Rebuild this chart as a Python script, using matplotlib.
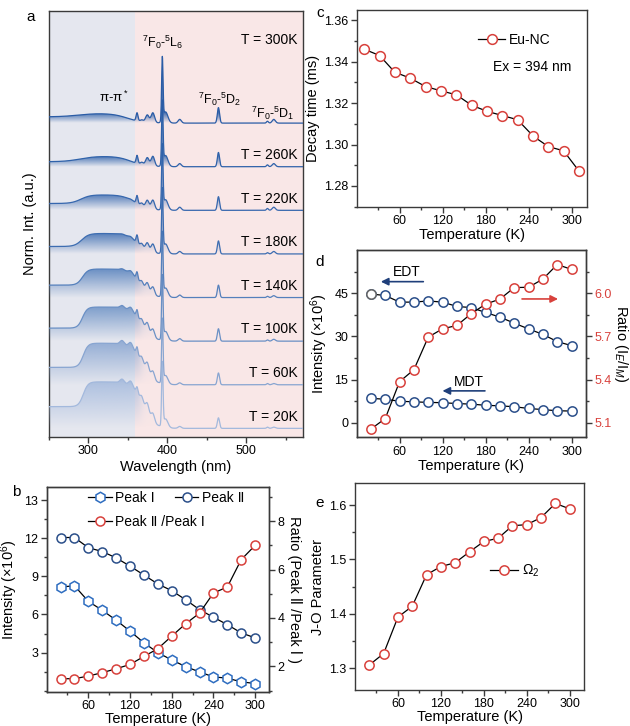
import numpy as np
import matplotlib
matplotlib.use('Agg')
import matplotlib.pyplot as plt
from matplotlib.path import Path
from matplotlib.patches import PathPatch
from matplotlib.colors import to_rgb
from matplotlib.lines import Line2D
from matplotlib.ticker import MultipleLocator, FixedLocator, FixedFormatter

plt.rcParams['font.family'] = ['Liberation Sans', 'DejaVu Sans']
plt.rcParams['mathtext.fontset'] = 'custom'
plt.rcParams['mathtext.rm'] = 'Liberation Sans'
plt.rcParams['mathtext.it'] = 'Liberation Sans:italic'
plt.rcParams['axes.edgecolor'] = '#3a3a3a'
plt.rcParams['axes.linewidth'] = 1.0

# ---------------- data ----------------
temps = [20, 40, 60, 80, 100, 120, 140, 160, 180, 200, 220, 240, 260, 280, 300]
t_ticks = [60, 120, 180, 240, 300]

# panel a: spectra (top trace first)
spec_labels = ['T = 300K', 'T = 260K', 'T = 220K', 'T = 180K',
               'T = 140K', 'T = 100K', 'T = 60K', 'T = 20K']
left_level = [0.10, 0.08, 0.11, 0.12, 0.20, 0.21, 0.28, 0.35]
hump_height = [0.16, 0.17, 0.25, 0.33, 0.46, 0.55, 0.67, 0.75]
hump_rise = [288, 290, 291, 292, 293, 293, 294, 294]
hump_rise_w = [12, 10, 6, 4.5, 3.5, 3.0, 3.0, 3.0]
hump_fall = [350, 355, 360, 363, 366, 368, 369, 370]
hump_fall_w = [10, 9, 8, 7, 7, 7, 7, 7]
line_pos = [343, 354, 362, 368, 375, 382, 394, 398, 416, 465, 527, 535]
line_width = [2.5, 2.5, 1.2, 2.0, 2.2, 2.2, 0.9, 3.0, 2.0, 1.4, 1.2, 2.0]
line_amp = [
    [0.00, 0.00, 0.13, 0.03, 0.12, 0.16, 1.00, 0.18, 0.06, 0.25, 0.03, 0.06],
    [0.00, 0.00, 0.13, 0.04, 0.13, 0.16, 1.00, 0.18, 0.05, 0.23, 0.03, 0.05],
    [0.00, 0.01, 0.13, 0.05, 0.13, 0.15, 1.00, 0.17, 0.05, 0.22, 0.03, 0.05],
    [0.01, 0.02, 0.13, 0.06, 0.13, 0.14, 1.00, 0.16, 0.04, 0.21, 0.02, 0.04],
    [0.02, 0.04, 0.12, 0.07, 0.14, 0.13, 1.00, 0.15, 0.04, 0.20, 0.02, 0.03],
    [0.04, 0.06, 0.12, 0.08, 0.15, 0.13, 1.00, 0.15, 0.04, 0.20, 0.02, 0.03],
    [0.06, 0.08, 0.12, 0.09, 0.16, 0.13, 1.00, 0.14, 0.03, 0.19, 0.02, 0.02],
    [0.06, 0.08, 0.10, 0.09, 0.16, 0.13, 1.00, 0.14, 0.03, 0.17, 0.02, 0.02],
]
spec_colors = ['#2a5ca6', '#2f62aa', '#3667ae', '#3d6db1',
               '#5580bc', '#6a90c5', '#88a5d1', '#a3b9dd']
right_fill = [1.0, 0.9, 0.75, 0.55, 0.4, 0.25, 0.15, 0.1]

# panel b
peak1 = [8.15, 8.26, 7.03, 6.33, 5.55, 4.69, 3.77, 3.00, 2.42, 1.90, 1.48, 1.09, 0.99, 0.70, 0.57]
peak2 = [12.05, 12.05, 11.25, 10.95, 10.45, 9.8, 9.1, 8.4, 7.87, 7.16, 6.38, 5.78, 5.2, 4.55, 4.16]
ratio_b = [1.49, 1.49, 1.60, 1.74, 1.90, 2.08, 2.41, 2.73, 3.25, 3.76, 4.20, 5.03, 5.28, 6.41, 7.00]

# panel c
c_temp = [11, 32, 53, 75, 96, 117, 139, 160, 182, 203, 224, 246, 267, 288, 310]
decay = [1.346, 1.343, 1.335, 1.332, 1.328, 1.326, 1.324, 1.319, 1.316, 1.314,
         1.312, 1.304, 1.299, 1.297, 1.287]

# panel d
edt = [44.7, 44.2, 41.9, 41.9, 42.3, 41.9, 40.4, 40.0, 38.3, 36.7, 34.6, 32.6, 30.7, 28.2, 26.8]
mdt = [8.5, 8.2, 7.5, 7.3, 7.1, 7.0, 6.7, 6.5, 6.1, 5.9, 5.6, 5.0, 4.6, 4.2, 4.1]
ratio_d = [5.057, 5.130, 5.386, 5.469, 5.695, 5.753, 5.776, 5.858, 5.924, 5.959,
           6.039, 6.041, 6.098, 6.199, 6.165]

# panel e
omega2 = [1.306, 1.327, 1.394, 1.414, 1.472, 1.487, 1.494, 1.514, 1.533, 1.539,
          1.562, 1.564, 1.577, 1.603, 1.593]

RED = '#d8413c'
BLUE = '#2e6dc0'
NAVY = '#2b4f8a'
FS_LAB = 10.5
FS_TICK = 9


def style(ax):
    ax.tick_params(which='both', direction='out', labelsize=FS_TICK, width=1.0,
                   colors='#3a3a3a', labelcolor='black', pad=2)
    ax.tick_params(which='major', length=4)
    ax.tick_params(which='minor', length=2.5)
    ax.tick_params(top=False, right=False)


def temp_axis(ax):
    ax.set_xlim(0, 320)
    ax.xaxis.set_major_locator(FixedLocator(t_ticks))
    ax.xaxis.set_minor_locator(FixedLocator([30, 90, 150, 210, 270]))


def mk(color, marker='o', ms=6.5):
    return dict(color='black', lw=0.9, marker=marker, ms=ms, mfc='white',
                mec=color, mew=1.1)


fig = plt.figure(figsize=(6.3, 7.26), dpi=100)

# ---------------- panel a ----------------
axa = fig.add_axes([0.077, 0.398, 0.404, 0.587])
axa.axvspan(250, 360, color='#e5e7ef', zorder=0, lw=0)
axa.axvspan(360, 572, color='#f9e7e7', zorder=0, lw=0)
wl = np.arange(250, 572.25, 0.25)


def sig(z):
    return 1.0 / (1.0 + np.exp(-z))


n = len(spec_labels)
for i in range(n):
    base = 0.14 + 0.703 * (n - 1 - i)
    y = left_level[i] * sig((hump_fall[i] - wl) / hump_fall_w[i])
    y = y + (hump_height[i] - left_level[i]) * sig((wl - hump_rise[i]) / hump_rise_w[i]) \
        * sig((hump_fall[i] - wl) / hump_fall_w[i])
    for p, w, a in zip(line_pos, line_width, line_amp[i]):
        y = y + a * np.exp(-0.5 * ((wl - p) / w) ** 2)
    yy = base + y
    z = 10 + 3 * (n - i)
    # gradient fill under the curve
    verts = np.column_stack([np.r_[wl, wl[::-1]], np.r_[yy, np.full_like(wl, base)[::-1]]])
    patch = PathPatch(Path(verts), fc='none', ec='none')
    axa.add_patch(patch)
    ny = 120
    ycoord = np.linspace(0, 1.05, ny)
    xcoord = np.linspace(250, 572, 500)
    vfrac = np.clip(ycoord / hump_height[i], 0, 1)[:, None]
    hfrac = (1 - (1 - right_fill[i]) * sig((xcoord - 366) / 3.0))[None, :]
    img = np.zeros((ny, len(xcoord), 4))
    img[..., :3] = to_rgb(spec_colors[i])
    img[..., 3] = 0.85 * vfrac * hfrac
    im = axa.imshow(img, extent=[250, 572, base, base + 1.05], origin='lower',
                    aspect='auto', zorder=z, interpolation='bilinear')
    im.set_clip_path(patch)
    axa.plot(wl, yy, color=spec_colors[i], lw=0.9, zorder=z + 1)
    ty = 6.40 if i == 0 else base + 0.19
    axa.text(565, ty, spec_labels[i], ha='right', va='center', fontsize=10, zorder=40)

axa.text(333, 5.48, r'π-π$^*$', ha='center', va='center', fontsize=9.5, zorder=40)
axa.text(395, 6.37, r'$^7$F$_0$-$^5$L$_6$', ha='center', va='center', fontsize=9, zorder=40)
axa.text(466, 5.45, r'$^7$F$_0$-$^5$D$_2$', ha='center', va='center', fontsize=9, zorder=40)
axa.text(534, 5.22, r'$^7$F$_0$-$^5$D$_1$', ha='center', va='center', fontsize=9, zorder=40)
axa.set_xlim(250, 572)
axa.set_ylim(0, 6.87)
axa.set_yticks([])
axa.xaxis.set_major_locator(MultipleLocator(100))
axa.xaxis.set_minor_locator(MultipleLocator(50))
style(axa)
axa.set_xlabel('Wavelength (nm)', fontsize=FS_LAB, labelpad=2)
axa.set_ylabel('Norm. Int. (a.u.)', fontsize=FS_LAB, labelpad=8)

# ---------------- panel b ----------------
axb = fig.add_axes([0.074, 0.0468, 0.353, 0.282])
axb2 = axb.twinx()
axb.plot(temps, peak1, **mk(BLUE, 'h', 7.5))
axb.plot(temps, peak2, **mk(NAVY, 'o', 6.5))
axb2.plot(temps, ratio_b, **mk(RED, 'o', 6.5))
temp_axis(axb)
axb.set_ylim(-0.1, 16)
axb2.set_ylim(0.94, 9.4)
axb.yaxis.set_major_locator(FixedLocator([3, 6, 9, 12, 15]))
axb.yaxis.set_major_formatter(FixedFormatter(['3', '6', '9', '12', '13']))
axb.yaxis.set_minor_locator(MultipleLocator(1.5))
axb2.yaxis.set_major_locator(MultipleLocator(2))
axb2.yaxis.set_minor_locator(MultipleLocator(1))
style(axb)
style(axb2)
axb2.tick_params(which='both', right=True, left=False)
axb.set_xlabel('Temperature (K)', fontsize=FS_LAB, labelpad=-0.5)
axb.set_ylabel('Intensity (×10$^6$)', fontsize=FS_LAB, labelpad=3)
axb2.set_ylabel('Ratio (Peak Ⅱ /Peak Ⅰ )', fontsize=FS_LAB, rotation=270, labelpad=13)
leg_kw = dict(frameon=False, loc='center left', fontsize=10, borderpad=0, borderaxespad=0,
              handlelength=1.7, handletextpad=0.25)
leg1 = axb.legend([Line2D([], [], **mk(BLUE, 'h', 7.5)), Line2D([], [], **mk(NAVY, 'o', 6.5))],
                  ['Peak Ⅰ', 'Peak Ⅱ'], ncol=2, columnspacing=1.45,
                  bbox_to_anchor=(0.186, 0.946), **leg_kw)
axb.add_artist(leg1)
axb.legend([Line2D([], [], **mk(RED, 'o', 6.5))], ['Peak Ⅱ /Peak Ⅰ'],
           bbox_to_anchor=(0.186, 0.829), **leg_kw)

# ---------------- panel c ----------------
axc = fig.add_axes([0.566, 0.7153, 0.365, 0.271])
axc.plot(c_temp, decay, label='Eu-NC', **mk(RED, 'o', 7))
temp_axis(axc)
axc.set_ylim(1.27, 1.365)
axc.yaxis.set_major_locator(MultipleLocator(0.02))
axc.yaxis.set_major_formatter(plt.FormatStrFormatter('%.2f'))
axc.yaxis.set_minor_locator(MultipleLocator(0.01))
style(axc)
axc.set_xlabel('Temperature (K)', fontsize=FS_LAB, labelpad=1)
axc.set_ylabel('Decay time (ms)', fontsize=FS_LAB, labelpad=3)
axc.legend(loc='center left', bbox_to_anchor=(0.53, 0.847), frameon=False, fontsize=10,
           borderpad=0, borderaxespad=0, handlelength=1.9, handletextpad=0.3)
axc.text(0.593, 0.71, 'Ex = 394 nm', transform=axc.transAxes, ha='left', va='center',
         fontsize=10)

# ---------------- panel d ----------------
axd = fig.add_axes([0.566, 0.3977, 0.364, 0.258])
axd2 = axd.twinx()
axd.plot(temps, edt, **mk(NAVY, 'o', 6.7))
axd.plot(temps[:1], edt[:1], ls='none', marker='o', ms=6.7, mfc='white', mec='#666666', mew=1.1)
axd.plot(temps, mdt, **mk(NAVY, 'o', 6.7))
axd2.plot(temps, ratio_d, **mk(RED, 'o', 6.7))
temp_axis(axd)
axd.set_ylim(-5, 60)
axd2.set_ylim(5.0, 6.3)
axd.yaxis.set_major_locator(FixedLocator([0, 15, 30, 45]))
axd.yaxis.set_minor_locator(FixedLocator([7.5, 22.5, 37.5, 52.5]))
axd2.yaxis.set_major_locator(FixedLocator([5.1, 5.4, 5.7, 6.0]))
axd2.yaxis.set_major_formatter(plt.FormatStrFormatter('%.1f'))
axd2.yaxis.set_minor_locator(FixedLocator([5.25, 5.55, 5.85, 6.15]))
style(axd)
style(axd2)
axd2.tick_params(which='both', right=True, left=False, labelcolor=RED)
axd.set_xlabel('Temperature (K)', fontsize=FS_LAB, labelpad=1)
axd.set_ylabel('Intensity (×10$^6$)', fontsize=FS_LAB, labelpad=3)
axd2.set_ylabel('Ratio (I$_E$/I$_M$)', fontsize=FS_LAB, rotation=270, labelpad=13)
arrow_navy = dict(arrowstyle='-|>', color='#1f3f7a', lw=1.2, mutation_scale=11)
axd.annotate('', xy=(30, 49), xytext=(97, 49), arrowprops=arrow_navy, zorder=5)
axd.text(70, 52.3, 'EDT', ha='center', va='center', fontsize=10)
axd.annotate('', xy=(116, 11.1), xytext=(183, 11.1), arrowprops=arrow_navy, zorder=5)
axd.text(157, 14.3, 'MDT', ha='center', va='center', fontsize=10)
axd.annotate('', xy=(285, 43), xytext=(227, 43),
             arrowprops=dict(arrowstyle='-|>', color=RED, lw=1.2, mutation_scale=11), zorder=5)

# ---------------- panel e ----------------
axe = fig.add_axes([0.5635, 0.0496, 0.3635, 0.2847])
axe.plot(temps, omega2, label='Ω$_2$', **mk(RED, 'o', 6.7))
temp_axis(axe)
axe.set_ylim(1.26, 1.64)
axe.yaxis.set_major_locator(MultipleLocator(0.1))
axe.yaxis.set_major_formatter(plt.FormatStrFormatter('%.1f'))
axe.yaxis.set_minor_locator(MultipleLocator(0.05))
style(axe)
axe.set_xlabel('Temperature (K)', fontsize=FS_LAB, labelpad=-0.5)
axe.set_ylabel('J-O Parameter', fontsize=FS_LAB, labelpad=3)
axe.legend(loc='center left', bbox_to_anchor=(0.59, 0.576), frameon=False, fontsize=10,
           borderpad=0, borderaxespad=0, handlelength=2.0, handletextpad=0.3)

# panel letters
for lab, x, y in [('a', 0.049, 0.977), ('b', 0.025, 0.322), ('c', 0.508, 0.982),
                  ('d', 0.508, 0.639), ('e', 0.508, 0.307)]:
    fig.text(x, y, lab, ha='center', va='center', fontsize=11)

fig.savefig('out.png', dpi=100)
